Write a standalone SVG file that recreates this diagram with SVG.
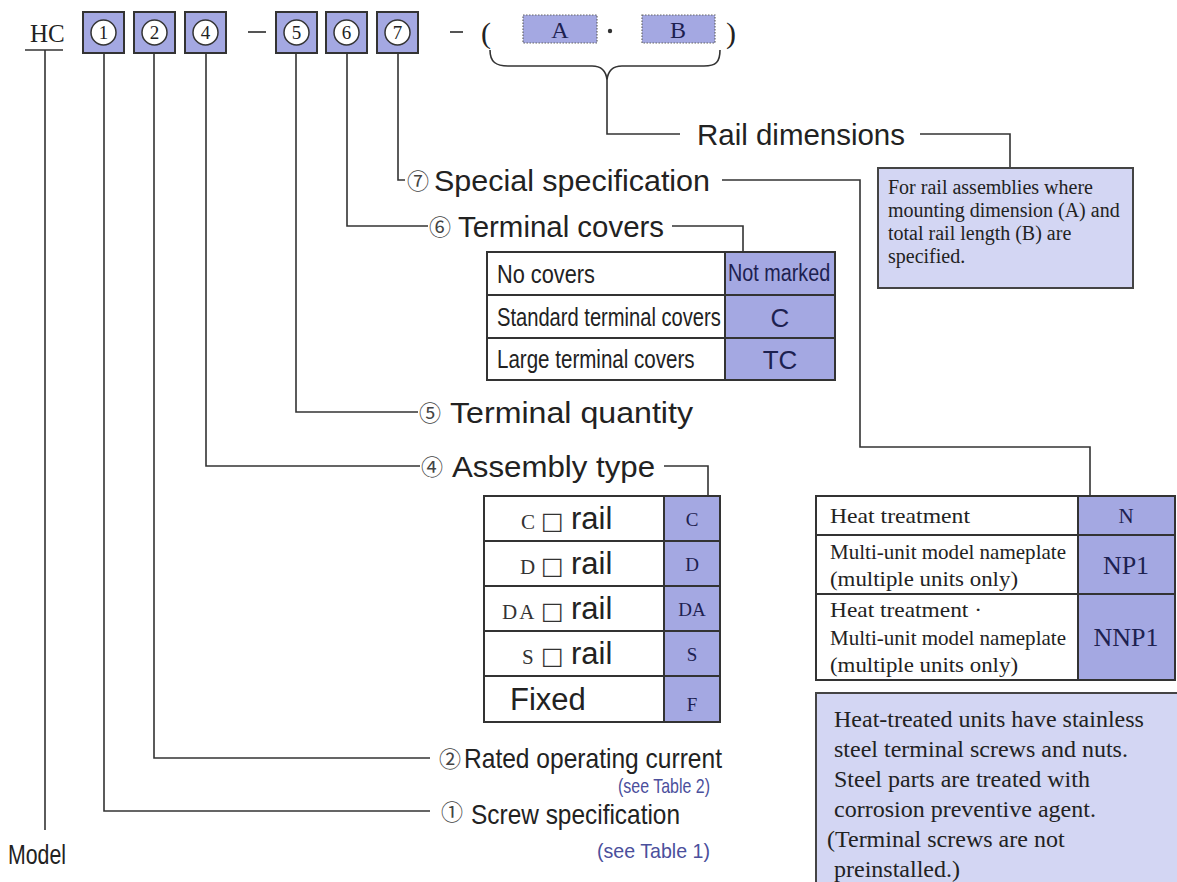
<svg xmlns="http://www.w3.org/2000/svg" width="1177" height="882" viewBox="0 0 1177 882">
<style>
.cell{fill:#a4a8e2;stroke:#333;stroke-width:2}
.wcell{fill:#fff;stroke:#333;stroke-width:2}
.ln{fill:none;stroke:#333;stroke-width:1.6}
.lbl{font-family:"Liberation Sans",sans-serif;font-size:30px;fill:#222}
.lbl2{font-family:"Liberation Sans",sans-serif;font-size:28px;fill:#222}
.num{font-family:"Noto Sans CJK JP","DejaVu Sans",sans-serif;font-size:22px;fill:#444}
.sans{font-family:"Liberation Sans",sans-serif;fill:#222}
.serif{font-family:"Liberation Serif",serif;fill:#222}
.see{font-family:"Liberation Sans",sans-serif;font-size:21px;fill:#4b4f9c}
.note{fill:#d3d6f3;stroke:#444;stroke-width:2}
.code{font-family:"Liberation Serif",serif;fill:#1d2150}
.circ{fill:#fff;stroke:#333;stroke-width:1.5}
.dig{font-family:"Liberation Serif",serif;font-size:19px;fill:#222;text-anchor:middle}
.dash{fill:none;stroke:#555;stroke-width:2}
</style>
<rect width="1177" height="882" fill="#fff"/>

<g id="code-row">
  <text class="serif" x="30" y="42" font-size="25">HC</text>
  <line class="ln" x1="25" y1="50" x2="63" y2="50"/>
  <rect class="cell" x="83" y="12" width="41" height="41"/>
  <circle class="circ" cx="103.5" cy="32.5" r="12.5"/><text class="dig" x="103.5" y="39">1</text>
  <rect class="cell" x="134" y="12" width="41" height="41"/>
  <circle class="circ" cx="154.5" cy="32.5" r="12.5"/><text class="dig" x="154.5" y="39">2</text>
  <rect class="cell" x="185" y="12" width="41" height="41"/>
  <circle class="circ" cx="205.5" cy="32.5" r="12.5"/><text class="dig" x="205.5" y="39">4</text>
  <line class="dash" x1="248" y1="32" x2="266" y2="32"/>
  <rect class="cell" x="276" y="12" width="41" height="41"/>
  <circle class="circ" cx="296.5" cy="32.5" r="12.5"/><text class="dig" x="296.5" y="39">5</text>
  <rect class="cell" x="326" y="12" width="41" height="41"/>
  <circle class="circ" cx="346.5" cy="32.5" r="12.5"/><text class="dig" x="346.5" y="39">6</text>
  <rect class="cell" x="377" y="12" width="41" height="41"/>
  <circle class="circ" cx="397.5" cy="32.5" r="12.5"/><text class="dig" x="397.5" y="39">7</text>
  <line class="dash" x1="450" y1="32" x2="463" y2="32"/>
  <text class="serif" x="481" y="43" font-size="30" fill="#555">(</text>
  <rect x="523" y="15" width="74" height="28" fill="#a4a8e2" stroke="#666" stroke-width="1.2" stroke-dasharray="1.5,1.5"/>
  <text class="code" x="560" y="38" font-size="24" text-anchor="middle">A</text>
  <circle cx="610" cy="31" r="2.2" fill="#333"/>
  <rect x="642" y="15" width="73" height="28" fill="#a4a8e2" stroke="#666" stroke-width="1.2" stroke-dasharray="1.5,1.5"/>
  <text class="code" x="678" y="38" font-size="24" text-anchor="middle">B</text>
  <text class="serif" x="726" y="43" font-size="30" fill="#555">)</text>
  <path class="ln" d="M490,50 C490,62 496,66 508,66 L592,66 C601,66 606,70 607,80 C608,70 613,66 622,66 L704,66 C716,66 720,62 720,50"/>
</g>

<g id="connectors">
  <path class="ln" d="M45,50 V830"/>
  <path class="ln" d="M104,53 V811 H430"/>
  <path class="ln" d="M154,53 V758 H430"/>
  <path class="ln" d="M206,53 V466 H420"/>
  <path class="ln" d="M296,53 V412 H418"/>
  <path class="ln" d="M347,53 V226 H428"/>
  <path class="ln" d="M398,53 V180 H405"/>
  <path class="ln" d="M607,80 V134 H680"/>
  <path class="ln" d="M920,134 H1010 V168"/>
  <path class="ln" d="M722,180 H860 V447 H1090 V496"/>
  <path class="ln" d="M672,226 H743 V252"/>
  <path class="ln" d="M664,466 H708 V496"/>
</g>

<g id="model-label">
  <text class="sans" x="8" y="864" font-size="28" textLength="58" lengthAdjust="spacingAndGlyphs">Model</text>
</g>

<g id="rail-dimensions">
  <text class="lbl" x="697" y="145" textLength="208" lengthAdjust="spacingAndGlyphs">Rail dimensions</text>
  <rect class="note" x="878" y="168" width="255" height="120"/>
  <text class="serif" font-size="20">
    <tspan x="888" y="194">For rail assemblies where</tspan>
    <tspan x="888" y="217">mounting dimension (A) and</tspan>
    <tspan x="888" y="240">total rail length (B) are</tspan>
    <tspan x="888" y="263">specified.</tspan>
  </text>
</g>

<g id="special-spec">
  <text class="num" x="407" y="189">⑦</text>
  <text class="lbl" x="434" y="191" textLength="276" lengthAdjust="spacingAndGlyphs">Special specification</text>
</g>

<g id="terminal-covers">
  <text class="num" x="429" y="235">⑥</text>
  <text class="lbl" x="458" y="237" textLength="206" lengthAdjust="spacingAndGlyphs">Terminal covers</text>
  <rect class="wcell" x="487" y="252" width="238" height="43"/>
  <rect class="wcell" x="487" y="295" width="238" height="43"/>
  <rect class="wcell" x="487" y="338" width="238" height="42"/>
  <rect class="cell" x="725" y="252" width="110" height="43"/>
  <rect class="cell" x="725" y="295" width="110" height="43"/>
  <rect class="cell" x="725" y="338" width="110" height="42"/>
  <text class="sans" font-size="25" transform="matrix(0.87,0,0,1,497,283)">No covers</text>
  <text class="sans" font-size="25" transform="matrix(0.806,0,0,1,497,326)">Standard terminal covers</text>
  <text class="sans" font-size="25" transform="matrix(0.822,0,0,1,497,368)">Large terminal covers</text>
  <text font-family="Liberation Sans,sans-serif" fill="#1d2150" font-size="23" transform="matrix(0.86,0,0,1,728,281)">Not marked</text>
  <text font-family="Liberation Sans,sans-serif" fill="#1d2150" font-size="26" x="780" y="327" text-anchor="middle">C</text>
  <text font-family="Liberation Sans,sans-serif" fill="#1d2150" font-size="26" x="780" y="369" text-anchor="middle">TC</text>
</g>

<g id="terminal-quantity">
  <text class="num" x="419" y="421">⑤</text>
  <text class="lbl" x="450" y="423" textLength="243" lengthAdjust="spacingAndGlyphs">Terminal quantity</text>
</g>

<g id="assembly-type">
  <text class="num" x="421" y="475">④</text>
  <text class="lbl" x="452" y="477" textLength="203" lengthAdjust="spacingAndGlyphs">Assembly type</text>
  <rect class="wcell" x="484" y="496" width="180" height="45"/>
  <rect class="wcell" x="484" y="541" width="180" height="45"/>
  <rect class="wcell" x="484" y="586" width="180" height="45"/>
  <rect class="wcell" x="484" y="631" width="180" height="45"/>
  <rect class="wcell" x="484" y="676" width="180" height="46"/>
  <rect class="cell" x="664" y="496" width="56" height="45"/>
  <rect class="cell" x="664" y="541" width="56" height="45"/>
  <rect class="cell" x="664" y="586" width="56" height="45"/>
  <rect class="cell" x="664" y="631" width="56" height="45"/>
  <rect class="cell" x="664" y="676" width="56" height="46"/>
  <text y="529"><tspan x="521" font-family="Liberation Serif,serif" font-size="21" fill="#333">C</tspan><tspan x="541" font-family="DejaVu Sans,sans-serif" font-size="24" fill="#333">□</tspan><tspan x="571" font-family="Liberation Sans,sans-serif" font-size="31" fill="#222">rail</tspan></text>
  <text y="574"><tspan x="520" font-family="Liberation Serif,serif" font-size="21" fill="#333">D</tspan><tspan x="541" font-family="DejaVu Sans,sans-serif" font-size="24" fill="#333">□</tspan><tspan x="571" font-family="Liberation Sans,sans-serif" font-size="31" fill="#222">rail</tspan></text>
  <text y="619"><tspan x="502" font-family="Liberation Serif,serif" font-size="21" fill="#333" letter-spacing="2">DA</tspan><tspan x="541" font-family="DejaVu Sans,sans-serif" font-size="24" fill="#333">□</tspan><tspan x="571" font-family="Liberation Sans,sans-serif" font-size="31" fill="#222">rail</tspan></text>
  <text y="664"><tspan x="522" font-family="Liberation Serif,serif" font-size="21" fill="#333">S</tspan><tspan x="541" font-family="DejaVu Sans,sans-serif" font-size="24" fill="#333">□</tspan><tspan x="571" font-family="Liberation Sans,sans-serif" font-size="31" fill="#222">rail</tspan></text>
  <text class="sans" x="510" y="710" font-size="31">Fixed</text>
  <text class="code" x="692" y="526" font-size="19" text-anchor="middle">C</text>
  <text class="code" x="692" y="571" font-size="19" text-anchor="middle">D</text>
  <text class="code" x="692" y="616" font-size="19" text-anchor="middle">DA</text>
  <text class="code" x="692" y="661" font-size="19" text-anchor="middle">S</text>
  <text class="code" x="692" y="711" font-size="19" text-anchor="middle">F</text>
</g>

<g id="special-table">
  <rect class="wcell" x="816" y="496" width="262" height="39"/>
  <rect class="wcell" x="816" y="535" width="262" height="59"/>
  <rect class="wcell" x="816" y="594" width="262" height="86"/>
  <rect class="cell" x="1078" y="496" width="97" height="39"/>
  <rect class="cell" x="1078" y="535" width="97" height="59"/>
  <rect class="cell" x="1078" y="594" width="97" height="86"/>
  <text class="serif" font-size="21" x="830" y="523" textLength="140" lengthAdjust="spacingAndGlyphs">Heat treatment</text>
  <text class="serif" font-size="21" x="830" y="559" textLength="236" lengthAdjust="spacingAndGlyphs">Multi-unit model nameplate</text>
  <text class="serif" font-size="21" x="830" y="586" textLength="188" lengthAdjust="spacingAndGlyphs">(multiple units only)</text>
  <text class="serif" font-size="21" x="830" y="617" textLength="152" lengthAdjust="spacingAndGlyphs">Heat treatment ·</text>
  <text class="serif" font-size="21" x="830" y="645" textLength="236" lengthAdjust="spacingAndGlyphs">Multi-unit model nameplate</text>
  <text class="serif" font-size="21" x="830" y="672" textLength="188" lengthAdjust="spacingAndGlyphs">(multiple units only)</text>
  <text class="code" x="1126" y="523" font-size="21" text-anchor="middle">N</text>
  <text class="code" x="1126" y="574" font-size="26" text-anchor="middle">NP1</text>
  <text class="code" x="1126" y="646" font-size="26" text-anchor="middle">NNP1</text>
</g>

<g id="heat-note">
  <rect class="note" x="816" y="693" width="365" height="200"/>
  <text class="serif" font-size="24">
    <tspan x="834" y="727">Heat-treated units have stainless</tspan>
    <tspan x="834" y="757">steel terminal screws and nuts.</tspan>
    <tspan x="834" y="787">Steel parts are treated with</tspan>
    <tspan x="834" y="817">corrosion preventive agent.</tspan>
    <tspan x="827" y="847">(Terminal screws are not</tspan>
    <tspan x="834" y="877">preinstalled.)</tspan>
  </text>
</g>

<g id="rated-current">
  <text class="num" x="439" y="767">②</text>
  <text class="lbl2" x="464" y="768" textLength="258" lengthAdjust="spacingAndGlyphs">Rated operating current</text>
  <text class="see" x="618" y="793" textLength="92" lengthAdjust="spacingAndGlyphs">(see Table 2)</text>
</g>

<g id="screw-spec">
  <text class="num" x="441" y="820">①</text>
  <text class="lbl2" x="471" y="824" textLength="209" lengthAdjust="spacingAndGlyphs">Screw specification</text>
  <text class="see" x="597" y="858" font-size="22" textLength="113" lengthAdjust="spacingAndGlyphs">(see Table 1)</text>
</g>
</svg>
